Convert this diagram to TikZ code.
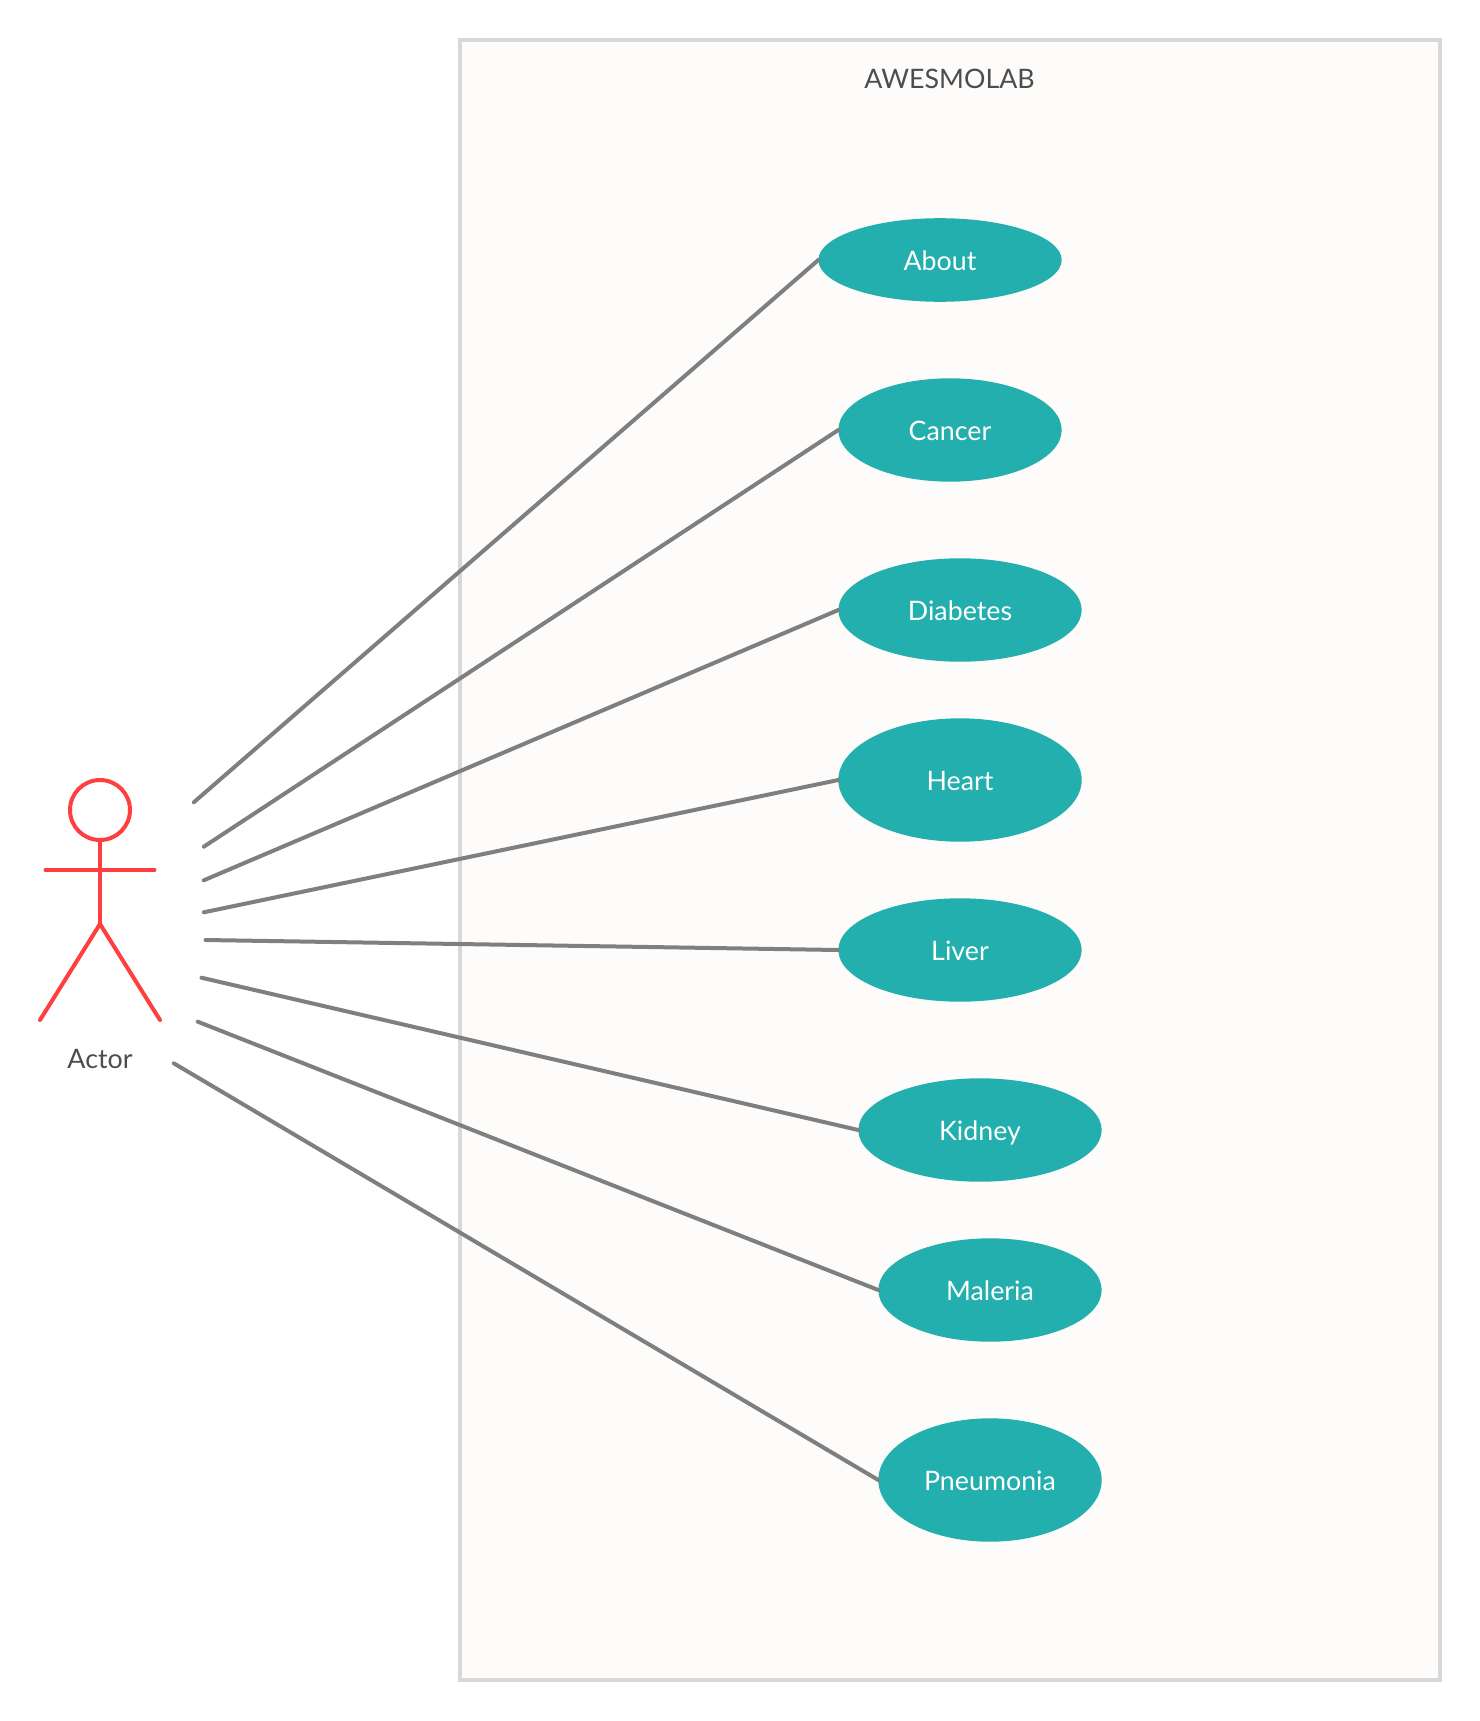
\documentclass[tikz,border=0pt]{standalone}
\usepackage{fontspec}
\setmainfont{Lato}
\usetikzlibrary{shapes.geometric}
\definecolor{teal1}{HTML}{23AFAD}
\definecolor{frameline}{HTML}{D8D8D8}
\definecolor{framefill}{HTML}{FDFCFB}
\definecolor{actorred}{HTML}{FF3F3F}
\definecolor{linkgray}{HTML}{7F7F7F}
\definecolor{labelgray}{HTML}{4D4D4D}
\tikzset{
  x=1pt,y=-1pt,
  usecase/.style={ellipse,fill=teal1,text=white,inner sep=0pt,outer sep=0pt,
    font=\fontsize{26.8}{30}\selectfont,text height=20pt,text depth=0pt},
  link/.style={draw=linkgray,line width=4pt,line cap=round},
  actorline/.style={draw=actorred,line width=4pt,line cap=round,line join=round},
  caption/.style={text=labelgray,inner sep=0pt,anchor=base,font=\fontsize{26.8}{30}\selectfont}
}
\begin{document}
\begin{tikzpicture}
\useasboundingbox (0,0) rectangle (1480,1721);
\node[draw=frameline,fill=framefill,line width=4pt,minimum width=980pt,minimum height=1640pt,inner sep=0pt,outer sep=0pt] (system) at (950,860) {};
\node[caption] (title) at (949.5,88) {AWESMOLAB};
\node[usecase,minimum width=243.4pt,minimum height=83.6pt] (about) at (940,260) {About};
\node[usecase,minimum width=223.4pt,minimum height=103.4pt] (cancer) at (950,430) {Cancer};
\node[usecase,minimum width=243.4pt,minimum height=103.4pt] (diabetes) at (960,610) {Diabetes};
\node[usecase,minimum width=243.4pt,minimum height=123.4pt] (heart) at (960,780) {Heart};
\node[usecase,minimum width=243.4pt,minimum height=103.4pt] (liver) at (960,950) {Liver};
\node[usecase,minimum width=243.4pt,minimum height=103.4pt] (kidney) at (980,1130) {Kidney};
\node[usecase,minimum width=223.4pt,minimum height=103.4pt] (maleria) at (990,1290) {Maleria};
\node[usecase,minimum width=223.4pt,minimum height=123.4pt] (pneumonia) at (990,1480) {Pneumonia};
% actor
\node[circle,draw=actorred,line width=4pt,minimum size=60pt,inner sep=0pt,outer sep=0pt] (head) at (100,810) {};
\coordinate (hip) at (100,924);
\coordinate (armL) at (45.5,870);
\coordinate (armR) at (154.5,870);
\coordinate (footL) at (40,1020);
\coordinate (footR) at (160,1020);
\draw[actorline] (head.south) -- (hip);
\draw[actorline] (armL) -- (armR);
\draw[actorline] (footL) -- (hip) -- (footR);
\node[caption] (actor) at (100,1068) {Actor};
% connectors
\coordinate (a1) at (193.8,802.3);
\coordinate (a2) at (203.8,846.7);
\coordinate (a3) at (203.8,880.3);
\coordinate (a4) at (203.8,912.3);
\coordinate (a5) at (205.5,940);
\coordinate (a6) at (201.5,977.7);
\coordinate (a7) at (197.8,1021.7);
\coordinate (a8) at (173.8,1063.3);
\draw[link] (a1) -- (about.west);
\draw[link] (a2) -- (cancer.west);
\draw[link] (a3) -- (diabetes.west);
\draw[link] (a4) -- (heart.west);
\draw[link] (a5) -- (liver.west);
\draw[link] (a6) -- (kidney.west);
\draw[link] (a7) -- (maleria.west);
\draw[link] (a8) -- (pneumonia.west);
\end{tikzpicture}
\end{document}
